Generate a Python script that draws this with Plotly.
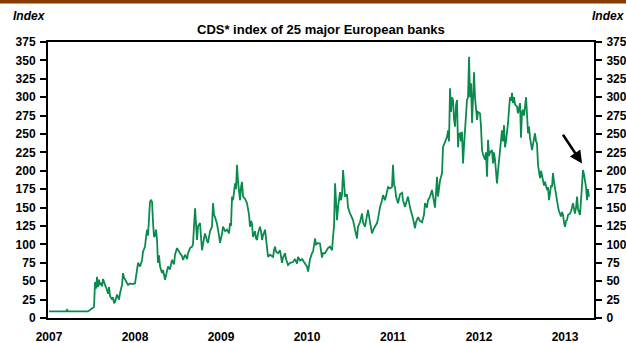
import plotly.graph_objects as go

# CDS index of 25 major European banks, decimal-year dates and index levels
years = [
    2007.000, 2007.128, 2007.198, 2007.209, 2007.221, 2007.453, 2007.477, 2007.512, 2007.523, 2007.535,
    2007.547, 2007.558, 2007.570, 2007.581, 2007.593, 2007.605, 2007.616, 2007.628, 2007.640, 2007.651,
    2007.674, 2007.686, 2007.698, 2007.709, 2007.733, 2007.744, 2007.756, 2007.767, 2007.791, 2007.814,
    2007.826, 2007.849, 2007.860, 2007.872, 2007.895, 2007.919, 2007.942, 2007.965, 2008.000, 2008.012,
    2008.023, 2008.035, 2008.058, 2008.081, 2008.093, 2008.116, 2008.128, 2008.140, 2008.151, 2008.163,
    2008.174, 2008.186, 2008.198, 2008.209, 2008.221, 2008.233, 2008.244, 2008.256, 2008.267, 2008.279,
    2008.291, 2008.314, 2008.326, 2008.349, 2008.360, 2008.372, 2008.384, 2008.407, 2008.430, 2008.453,
    2008.465, 2008.488, 2008.500, 2008.523, 2008.547, 2008.558, 2008.581, 2008.605, 2008.616, 2008.640,
    2008.663, 2008.674, 2008.698, 2008.709, 2008.721, 2008.733, 2008.756, 2008.767, 2008.779, 2008.802,
    2008.814, 2008.837, 2008.849, 2008.872, 2008.895, 2008.907, 2008.919, 2008.930, 2008.953, 2008.977,
    2008.988, 2009.012, 2009.023, 2009.047, 2009.070, 2009.093, 2009.105, 2009.116, 2009.128, 2009.140,
    2009.163, 2009.174, 2009.186, 2009.198, 2009.209, 2009.221, 2009.233, 2009.244, 2009.256, 2009.279,
    2009.302, 2009.314, 2009.326, 2009.337, 2009.349, 2009.360, 2009.372, 2009.395, 2009.407, 2009.419,
    2009.430, 2009.453, 2009.465, 2009.477, 2009.488, 2009.512, 2009.523, 2009.535, 2009.547, 2009.570,
    2009.605, 2009.616, 2009.628, 2009.640, 2009.663, 2009.686, 2009.709, 2009.721, 2009.744, 2009.756,
    2009.779, 2009.802, 2009.837, 2009.860, 2009.884, 2009.895, 2009.919, 2009.942, 2009.965, 2009.977,
    2010.000, 2010.012, 2010.023, 2010.035, 2010.058, 2010.070, 2010.093, 2010.105, 2010.128, 2010.151,
    2010.174, 2010.186, 2010.209, 2010.233, 2010.244, 2010.267, 2010.291, 2010.302, 2010.314, 2010.326,
    2010.337, 2010.349, 2010.360, 2010.372, 2010.384, 2010.395, 2010.407, 2010.419, 2010.430, 2010.442,
    2010.465, 2010.477, 2010.500, 2010.523, 2010.535, 2010.558, 2010.581, 2010.593, 2010.616, 2010.640,
    2010.651, 2010.674, 2010.698, 2010.709, 2010.733, 2010.756, 2010.779, 2010.814, 2010.826, 2010.849,
    2010.872, 2010.884, 2010.907, 2010.930, 2010.942, 2010.965, 2010.988, 2011.000, 2011.012, 2011.023,
    2011.035, 2011.058, 2011.081, 2011.105, 2011.116, 2011.140, 2011.163, 2011.174, 2011.198, 2011.221,
    2011.233, 2011.256, 2011.267, 2011.291, 2011.314, 2011.337, 2011.360, 2011.372, 2011.395, 2011.407,
    2011.430, 2011.453, 2011.477, 2011.488, 2011.512, 2011.523, 2011.547, 2011.570, 2011.581, 2011.605,
    2011.628, 2011.640, 2011.651, 2011.663, 2011.674, 2011.686, 2011.698, 2011.709, 2011.721, 2011.733,
    2011.744, 2011.756, 2011.767, 2011.779, 2011.791, 2011.802, 2011.814, 2011.826, 2011.837, 2011.860,
    2011.872, 2011.884, 2011.895, 2011.907, 2011.919, 2011.930, 2011.942, 2011.953, 2011.965, 2011.977,
    2011.988, 2012.012, 2012.023, 2012.035, 2012.047, 2012.070, 2012.081, 2012.093, 2012.105, 2012.116,
    2012.128, 2012.151, 2012.163, 2012.174, 2012.186, 2012.209, 2012.221, 2012.244, 2012.267, 2012.279,
    2012.291, 2012.302, 2012.314, 2012.337, 2012.349, 2012.360, 2012.372, 2012.384, 2012.395, 2012.407,
    2012.419, 2012.442, 2012.453, 2012.465, 2012.477, 2012.488, 2012.500, 2012.512, 2012.523, 2012.547,
    2012.558, 2012.570, 2012.581, 2012.593, 2012.616, 2012.628, 2012.651, 2012.663, 2012.674, 2012.686,
    2012.698, 2012.709, 2012.721, 2012.744, 2012.756, 2012.767, 2012.791, 2012.802, 2012.814, 2012.826,
    2012.837, 2012.849, 2012.860, 2012.872, 2012.884, 2012.907, 2012.919, 2012.930, 2012.942, 2012.953,
    2012.965, 2012.977, 2012.988, 2013.000, 2013.012, 2013.023, 2013.035, 2013.058, 2013.070, 2013.081,
    2013.093, 2013.105, 2013.116, 2013.128, 2013.140, 2013.151, 2013.163, 2013.174, 2013.186, 2013.198,
    2013.209, 2013.221, 2013.233, 2013.244, 2013.256, 2013.267, 2013.279,
]
cds_index = [
    9, 9, 9, 11, 9, 9, 11, 13, 15, 49,
    40, 56, 42, 52, 45, 48, 43, 53, 50, 45,
    38, 33, 42, 30, 25, 28, 20, 22, 32, 25,
    34, 45, 61, 55, 50, 45, 47, 46, 47, 55,
    62, 75, 70, 78, 90, 97, 110, 120, 112, 140,
    158, 160, 158, 130, 110, 112, 120, 106, 75, 85,
    70, 61, 65, 52, 58, 63, 70, 66, 79, 73,
    86, 95, 92, 88, 84, 79, 86, 80, 88, 95,
    97, 100, 149, 120, 106, 125, 129, 110, 92, 108,
    115, 105, 102, 118, 124, 156, 140, 137, 128, 112,
    102, 115, 124, 118, 120, 115, 129, 125, 165, 160,
    183, 175, 208, 185, 170, 160, 178, 185, 165, 162,
    156, 150, 140, 124, 132, 128, 110, 118, 108, 106,
    115, 124, 118, 106, 112, 120, 108, 100, 83, 86,
    83, 92, 97, 90, 88, 92, 75, 82, 88, 80,
    72, 75, 76, 80, 74, 83, 78, 80, 76, 75,
    70, 63, 72, 80, 88, 90, 108, 100, 102, 101,
    82, 88, 88, 94, 95, 97, 92, 110, 125, 183,
    160, 133, 150, 165, 171, 160, 168, 201, 175, 165,
    168, 150, 142, 136, 133, 120, 108, 124, 130, 142,
    130, 124, 138, 147, 130, 115, 122, 129, 135, 151,
    160, 167, 160, 170, 178, 176, 178, 208, 180, 178,
    165, 156, 168, 170, 160, 151, 160, 165, 150, 142,
    135, 122, 130, 137, 132, 130, 140, 156, 150, 160,
    165, 174, 160, 150, 192, 165, 187, 197, 232, 240,
    246, 255, 240, 312, 280, 300, 296, 270, 260, 290,
    296, 232, 250, 251, 240, 253, 210, 235, 255, 296,
    300, 355, 300, 319, 265, 290, 334, 300, 287, 269,
    280, 278, 260, 228, 222, 215, 225, 192, 242, 220,
    225, 228, 210, 225, 215, 183, 200, 228, 255, 240,
    262, 232, 240, 265, 285, 300, 295, 306, 292, 300,
    290, 287, 278, 285, 292, 245, 280, 283, 275, 300,
    269, 251, 260, 245, 228, 235, 251, 240, 237, 208,
    197, 190, 200, 187, 180, 185, 174, 178, 160, 170,
    180, 178, 197, 185, 175, 160, 151, 145, 142, 138,
    144, 140, 130, 124, 132, 133, 140, 142, 145, 151,
    156, 148, 142, 150, 165, 148, 145, 140, 160, 178,
    201, 195, 185, 178, 160, 175, 165,
]
year_ticks = [2007, 2008, 2009, 2010, 2011, 2012, 2013]
level_ticks = list(range(0, 376, 25))

# page and plot-area geometry (pixels)
W, H = 626, 343
L, R, T, B = 48, 32, 42, 25
PW, PH = W - L - R, H - T - B


def xp(px):
    return (px - L) / PW


def yp(py):
    return (H - B - py) / PH


FONT = "Liberation Sans, Arial, sans-serif"
GREEN = "#0B8A4E"

fig = go.Figure()
fig.add_trace(go.Scatter(
    x=years, y=cds_index, mode="lines",
    line=dict(color=GREEN, width=1.8),
    hoverinfo="skip", showlegend=False,
))
# transparent copy so the right-hand axis is drawn
fig.add_trace(go.Scatter(
    x=years, y=cds_index, yaxis="y2", mode="lines",
    line=dict(color=GREEN, width=0), opacity=0,
    hoverinfo="skip", showlegend=False,
))

tickfont = dict(family=FONT, size=12, color="black", weight="bold")
yaxis_common = dict(
    range=[0, 375], tickvals=level_ticks, ticks="outside", ticklen=6,
    tickwidth=1.5, tickcolor="black", showline=True, linewidth=2,
    linecolor="black", showgrid=False, zeroline=False, tickfont=tickfont,
    ticklabelstandoff=2, automargin=False,
)

fig.update_layout(
    width=W, height=H,
    margin=dict(l=L, r=R, t=T, b=B, pad=0),
    paper_bgcolor="white", plot_bgcolor="white",
    xaxis=dict(
        range=[2006.988, 2013.337], tickvals=year_ticks,
        ticktext=[str(y) for y in year_ticks], ticks="",
        showline=True, linewidth=2, linecolor="black", mirror=True,
        showgrid=False, zeroline=False, tickfont=tickfont,
        ticklabelstandoff=7, automargin=False,
    ),
    yaxis=dict(side="left", **yaxis_common),
    yaxis2=dict(side="right", overlaying="y", **yaxis_common),
    shapes=[
        dict(type="rect", xref="paper", yref="paper",
             x0=xp(0), x1=xp(W), y0=yp(3.5), y1=yp(0),
             fillcolor="#8A3C00", line=dict(width=0), layer="above"),
    ],
    annotations=[
        dict(text="<b><i>Index</i></b>", xref="paper", yref="paper",
             x=xp(11), y=yp(16), xanchor="left", yanchor="middle",
             showarrow=False, font=dict(family=FONT, size=12, color="black")),
        dict(text="<b><i>Index</i></b>", xref="paper", yref="paper",
             x=xp(590), y=yp(16), xanchor="left", yanchor="middle",
             showarrow=False, font=dict(family=FONT, size=12, color="black")),
        dict(text="<b>CDS* index of 25 major European banks</b>",
             xref="paper", yref="paper", x=xp(321), y=yp(29),
             xanchor="center", yanchor="middle", showarrow=False,
             font=dict(family=FONT, size=13, color="black")),
        dict(text="", x=2013.198, y=210, ax=2012.965, ay=251,
             xref="x", yref="y", axref="x", ayref="y",
             showarrow=True, arrowhead=2, arrowsize=1, arrowwidth=2.5,
             arrowcolor="black"),
    ],
)

fig.write_html("out.html")
